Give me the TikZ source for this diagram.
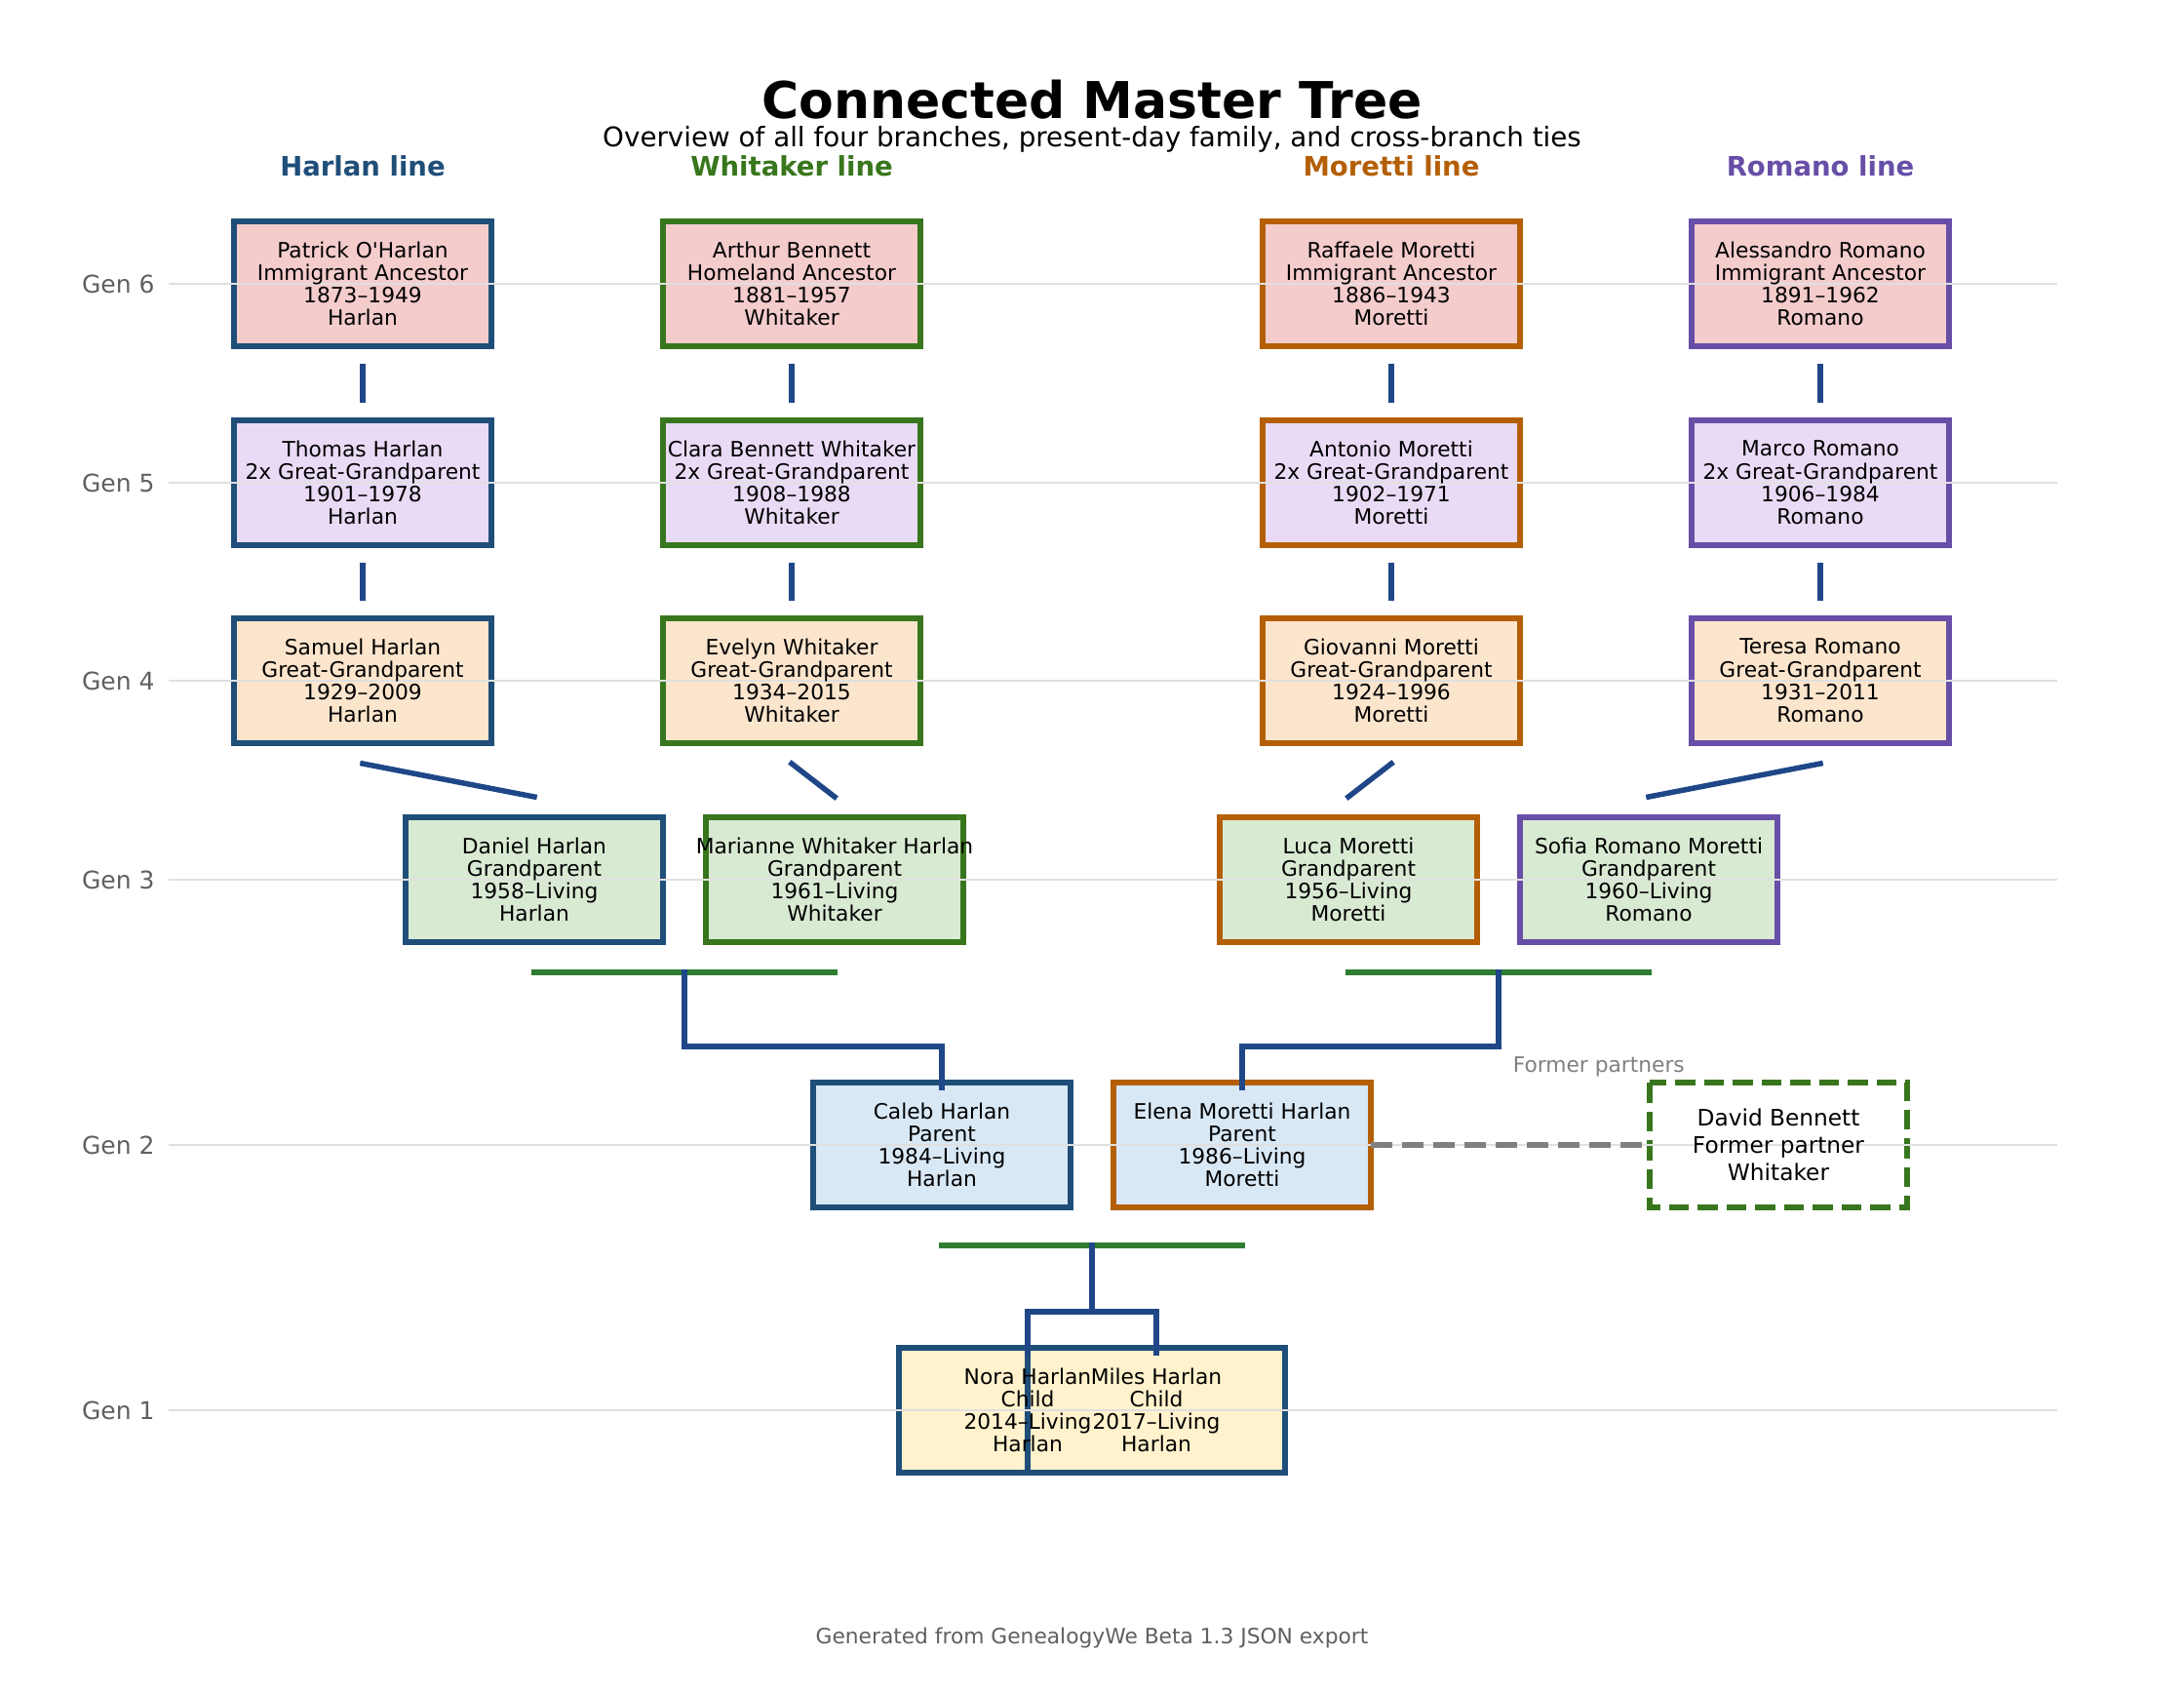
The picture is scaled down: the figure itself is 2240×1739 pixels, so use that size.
\documentclass[tikz,border=0pt]{standalone}
\usepackage{fontspec}
\setmainfont{DejaVu Sans}[Ligatures=TeXOff]
\usetikzlibrary{calc}

\pgfdeclarelayer{boxes}
\pgfdeclarelayer{grid}
\pgfsetlayers{boxes,grid,main}

\definecolor{harlan}{HTML}{1F4E79}
\definecolor{whitaker}{HTML}{38761D}
\definecolor{moretti}{HTML}{B45F06}
\definecolor{romano}{HTML}{674EA7}
\definecolor{linkblue}{HTML}{1F4788}
\definecolor{marriage}{HTML}{2E7D32}
\definecolor{labelgray}{HTML}{606060}
\definecolor{exgray}{HTML}{808080}
\definecolor{gridgray}{HTML}{E0E0E0}
\definecolor{fillsix}{HTML}{F4CCCC}
\definecolor{fillfive}{HTML}{E9DBF5}
\definecolor{fillfour}{HTML}{FCE5CD}
\definecolor{fillthree}{HTML}{D9EAD3}
\definecolor{filltwo}{HTML}{D9E8F5}
\definecolor{fillone}{HTML}{FFF2CC}

\begin{document}
\begin{tikzpicture}[
    x=0.4pt, y=-0.4pt,
    person/.style={align=center, inner sep=0pt, font=\fontsize{8.7}{9.3}\selectfont},
    experson/.style={align=center, inner sep=0pt, font=\fontsize{9.3}{11.3}\selectfont},
    box/.style={line width=2.2pt},
    link/.style={draw=linkblue, line width=2.2pt, line cap=rect},
    couple/.style={draw=marriage, line width=2.6pt, line cap=rect},
    exline/.style={draw=exgray, line width=2.2pt, dash pattern=on 8.9pt off 3.9pt},
    gridline/.style={draw=gridgray, line width=0.8pt},
    genlabel/.style={anchor=east, inner sep=0pt, text=labelgray, font=\fontsize{10}{12}\selectfont},
    branch/.style={anchor=base, inner sep=0pt, font=\fontsize{11}{13}\selectfont\bfseries}
]
\useasboundingbox (0,0) rectangle (2240,1739);

% Titles
\node[anchor=base, inner sep=0pt, font=\fontsize{20.8}{25}\selectfont\bfseries] (title) at (1120,122) {Connected Master Tree};
\node[anchor=base, inner sep=0pt, font=\fontsize{11.1}{13}\selectfont] (subtitle) at (1120,151) {Overview of all four branches, present-day family, and cross-branch ties};
\node[branch, text=harlan] (hline) at (372,181) {Harlan line};
\node[branch, text=whitaker] (wline) at (812,181) {Whitaker line};
\node[branch, text=moretti] (mline) at (1427,181) {Moretti line};
\node[branch, text=romano] (rline) at (1867,181) {Romano line};

% Generation rows
\foreach \g/\y in {6/291, 5/495, 4/698, 3/902, 2/1174, 1/1446} {
  \node[genlabel] (gen\g) at (159,\y) {Gen \g};
  \begin{pgfonlayer}{grid}
    \draw[gridline] (173,\y) -- (2110,\y);
  \end{pgfonlayer}
}

% Gen 6
\node[person] (patrick) at (372,291) {Patrick O'Harlan\\Immigrant Ancestor\\1873–1949\\Harlan};
\node[person] (arthur) at (812,291) {Arthur Bennett\\Homeland Ancestor\\1881–1957\\Whitaker};
\node[person] (raffaele) at (1427,291) {Raffaele Moretti\\Immigrant Ancestor\\1886–1943\\Moretti};
\node[person] (alessandro) at (1867,291) {Alessandro Romano\\Immigrant Ancestor\\1891–1962\\Romano};

% Gen 5
\node[person] (thomas) at (372,495) {Thomas Harlan\\2x Great-Grandparent\\1901–1978\\Harlan};
\node[person] (clara) at (812,495) {Clara Bennett Whitaker\\2x Great-Grandparent\\1908–1988\\Whitaker};
\node[person] (antonio) at (1427,495) {Antonio Moretti\\2x Great-Grandparent\\1902–1971\\Moretti};
\node[person] (marco) at (1867,495) {Marco Romano\\2x Great-Grandparent\\1906–1984\\Romano};

% Gen 4
\node[person] (samuel) at (372,698) {Samuel Harlan\\Great-Grandparent\\1929–2009\\Harlan};
\node[person] (evelyn) at (812,698) {Evelyn Whitaker\\Great-Grandparent\\1934–2015\\Whitaker};
\node[person] (giovanni) at (1427,698) {Giovanni Moretti\\Great-Grandparent\\1924–1996\\Moretti};
\node[person] (teresa) at (1867,698) {Teresa Romano\\Great-Grandparent\\1931–2011\\Romano};

% Gen 3
\node[person] (daniel) at (548,902) {Daniel Harlan\\Grandparent\\1958–Living\\Harlan};
\node[person] (marianne) at (856,902) {Marianne Whitaker Harlan\\Grandparent\\1961–Living\\Whitaker};
\node[person] (luca) at (1383,902) {Luca Moretti\\Grandparent\\1956–Living\\Moretti};
\node[person] (sofia) at (1691,902) {Sofia Romano Moretti\\Grandparent\\1960–Living\\Romano};

% Gen 2
\node[person] (caleb) at (966,1174) {Caleb Harlan\\Parent\\1984–Living\\Harlan};
\node[person] (elena) at (1274,1174) {Elena Moretti Harlan\\Parent\\1986–Living\\Moretti};
\node[experson] (david) at (1824,1174) {David Bennett\\Former partner\\Whitaker};

% Gen 1
\node[person] (nora) at (1054,1446) {Nora Harlan\\Child\\2014–Living\\Harlan};
\node[person] (miles) at (1186,1446) {Miles Harlan\\Child\\2017–Living\\Harlan};

% Boxes behind the names
\begin{pgfonlayer}{boxes}
\fill[white] (0,0) rectangle (2240,1739);
\foreach \n/\f/\c in {patrick/fillsix/harlan, arthur/fillsix/whitaker, raffaele/fillsix/moretti, alessandro/fillsix/romano,
    thomas/fillfive/harlan, clara/fillfive/whitaker, antonio/fillfive/moretti, marco/fillfive/romano,
    samuel/fillfour/harlan, evelyn/fillfour/whitaker, giovanni/fillfour/moretti, teresa/fillfour/romano,
    daniel/fillthree/harlan, marianne/fillthree/whitaker, luca/fillthree/moretti, sofia/fillthree/romano,
    caleb/filltwo/harlan, elena/filltwo/moretti, nora/fillone/harlan, miles/fillone/harlan}
  \draw[box, fill=\f, draw=\c] ($(\n)+(-132,-64)$) rectangle ($(\n)+(132,64)$);
\draw[box, fill=white, draw=whitaker, dash pattern=on 8.2pt off 3.6pt] ($(david)+(-132,-64)$) rectangle ($(david)+(132,64)$);
\end{pgfonlayer}

% Parent to child lines
\foreach \a/\b in {patrick/thomas, thomas/samuel, arthur/clara, clara/evelyn, raffaele/antonio, antonio/giovanni,
    alessandro/marco, marco/teresa, samuel/daniel, evelyn/marianne, giovanni/luca, teresa/sofia}
  \draw[link] ($(\a)+(0,85)$) -- ($(\b)+(0,-85)$);

% Couples
\draw[couple] ($(daniel)+(0,95)$) -- ($(marianne)+(0,95)$);
\draw[couple] ($(luca)+(0,95)$) -- ($(sofia)+(0,95)$);
\draw[couple] ($(caleb)+(0,103)$) -- ($(elena)+(0,103)$);
\coordinate (hcouple) at ($(daniel)!0.5!(marianne)+(0,95)$);
\coordinate (mcouple) at ($(luca)!0.5!(sofia)+(0,95)$);
\coordinate (pcouple) at ($(caleb)!0.5!(elena)+(0,103)$);

% Children of each couple
\draw[link] (hcouple) |- ($(caleb)+(0,-101)$) -- ($(caleb)+(0,-59)$);
\draw[link] (mcouple) |- ($(elena)+(0,-101)$) -- ($(elena)+(0,-59)$);
\draw[link] (pcouple) |- ($(nora)+(0,-101)$) -- ($(nora)+(0,-59)$);
\draw[link] (pcouple) |- ($(miles)+(0,-101)$) -- ($(miles)+(0,-59)$);

% Former partners
\draw[exline] ($(elena)+(132,0)$) -- node[pos=0.5, anchor=base west, inner sep=0pt, yshift=30pt, text=exgray, font=\fontsize{8.7}{10}\selectfont] (exlabel) {Former partners} ($(david)+(-132,0)$);

% Footer
\node[anchor=base, inner sep=0pt, text=labelgray, font=\fontsize{8.7}{10}\selectfont] (footer) at (1120,1685) {Generated from GenealogyWe Beta 1.3 JSON export};

\end{tikzpicture}
\end{document}
